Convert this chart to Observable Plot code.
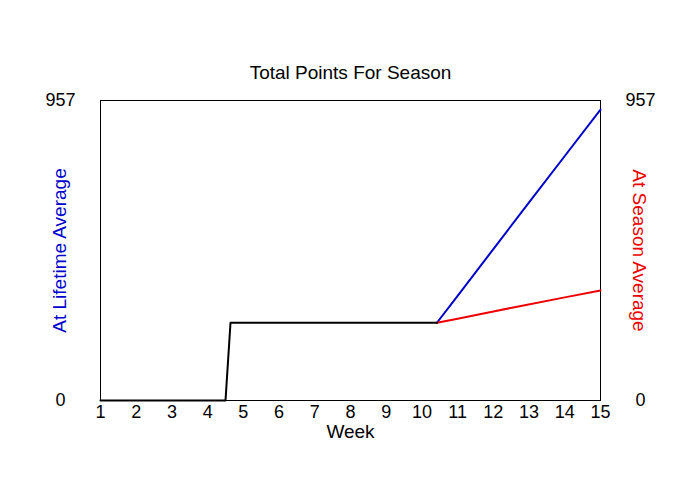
<!DOCTYPE html>
<html>
<head>
<meta charset="utf-8">
<script src="https://cdn.jsdelivr.net/npm/d3@7"></script>
<script src="https://cdn.jsdelivr.net/npm/@observablehq/plot@0.6"></script>
<style>
  html, body { margin: 0; padding: 0; background: #fff; }
  #chart svg { display: block; }
</style>
</head>
<body>
<div id="chart"></div>
<script>
const titleText = "Total Points For Season";
const xLabel = "Week";
const leftLabel = "At Lifetime Average";
const rightLabel = "At Season Average";
const yTicks = [0, 957];
const xTicks = [1,2,3,4,5,6,7,8,9,10,11,12,13,14,15];

const baseWeeks = [1, 4.5, 4.64, 10.42];
const baseValues = [0, 0, 248, 248];

const lifetimeWeeks = [10.42, 11, 12, 13, 14, 15];
const lifetimeValues = [248, 334, 483, 632, 780, 928];

const seasonWeeks = [10.42, 11, 12, 12.7, 14, 15];
const seasonValues = [248, 261, 284, 300, 329, 351];

const toRows = (w, v) => w.map((d, i) => ({week: d, value: v[i]}));
const base = toRows(baseWeeks, baseValues);
const lifetime = toRows(lifetimeWeeks, lifetimeValues);
const season = toRows(seasonWeeks, seasonValues);

const font = "'Liberation Sans', Arial, sans-serif";

const chart = Plot.plot({
  width: 700,
  height: 500,
  marginLeft: 100,
  marginRight: 100,
  marginTop: 100,
  marginBottom: 100,
  style: {fontFamily: font, background: "#fff", color: "#000"},
  x: {domain: [1, 15]},
  y: {domain: [0, 957]},
  marks: [
    Plot.frame({stroke: "#000", strokeWidth: 1}),
    Plot.axisX({ticks: xTicks, tickSize: 0, tickPadding: 5, fontSize: 18, label: null, tickFormat: d => String(d)}),
    Plot.axisY({anchor: "left", ticks: yTicks, tickSize: 0, tickPadding: 40, textAnchor: "middle", fontSize: 18, label: null, tickFormat: d => String(d)}),
    Plot.axisY({anchor: "right", ticks: yTicks, tickSize: 0, tickPadding: 40, textAnchor: "middle", fontSize: 18, label: null, tickFormat: d => String(d)}),
    Plot.lineY(lifetime, {x: "week", y: "value", stroke: "#0000cc", strokeWidth: 2}),
    Plot.lineY(season, {x: "week", y: "value", stroke: "#ee0000", strokeWidth: 2}),
    Plot.lineY(base, {x: "week", y: "value", stroke: "#000", strokeWidth: 2}),
    Plot.text([titleText], {frameAnchor: "top", dy: -28, lineAnchor: "middle", textAnchor: "middle", fontSize: 19, fill: "#000"}),
    Plot.text([xLabel], {frameAnchor: "bottom", dy: 31, lineAnchor: "middle", textAnchor: "middle", fontSize: 19, fill: "#000"}),
    Plot.text([leftLabel], {frameAnchor: "left", dx: -41, rotate: -90, lineAnchor: "middle", textAnchor: "middle", fontSize: 19, fill: "#0000cc"}),
    Plot.text([rightLabel], {frameAnchor: "right", dx: 39, rotate: 90, lineAnchor: "middle", textAnchor: "middle", fontSize: 19, fill: "#ee0000"})
  ]
});
document.getElementById("chart").appendChild(chart);
</script>
</body>
</html>
